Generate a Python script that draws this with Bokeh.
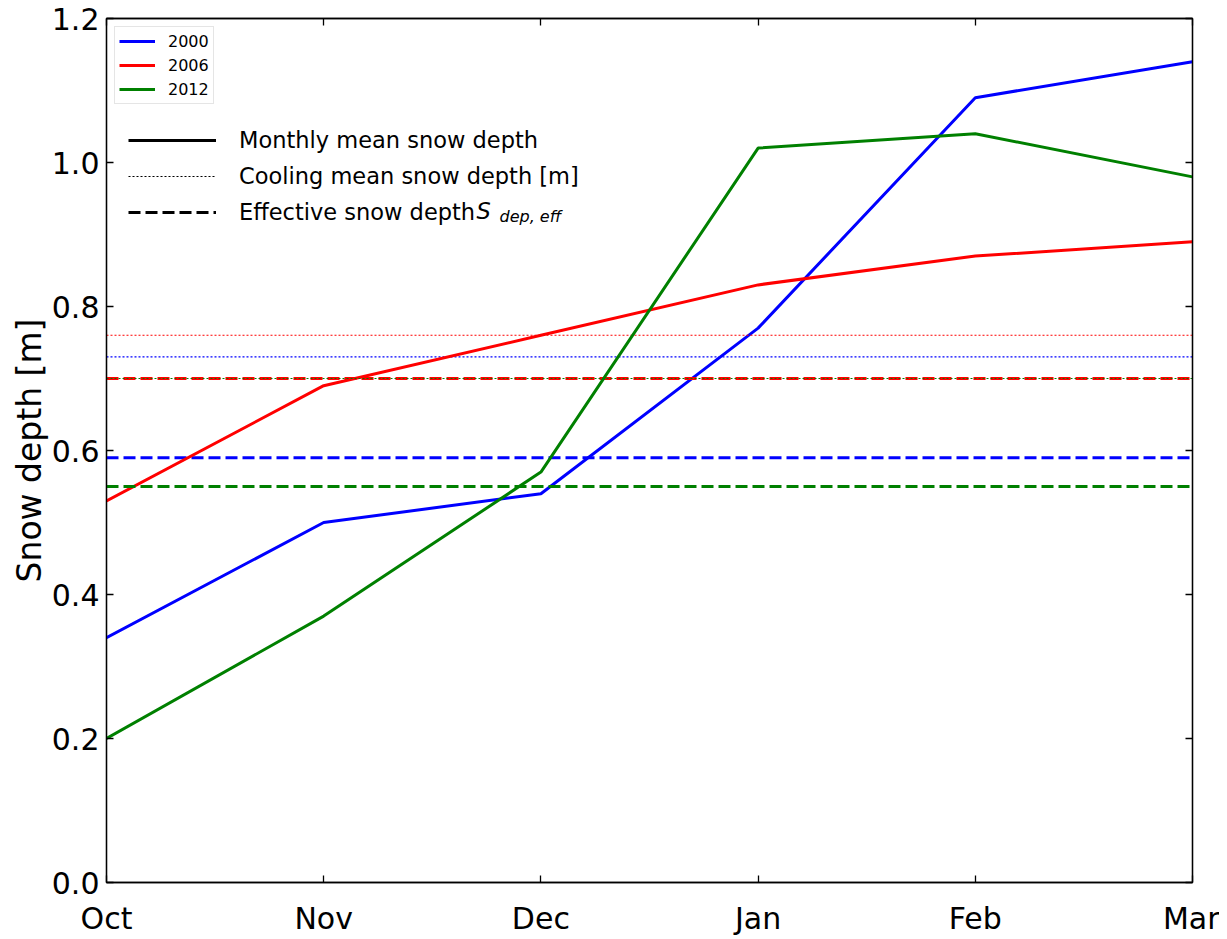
from bokeh.plotting import figure
from bokeh.models import (Legend, LegendItem, LinearAxis, FixedTicker, Label,
                          NumeralTickFormatter, Range1d, CustomJSTickFormatter)
from bokeh.embed import file_html
from bokeh.resources import INLINE

months = ["Oct", "Nov", "Dec", "Jan", "Feb", "Mar"]
years = ["2000", "2006", "2012"]
colors = ["#0000ff", "#ff0000", "#008000"]
depth_2000 = [0.34, 0.50, 0.54, 0.77, 1.09, 1.14]
depth_2006 = [0.53, 0.69, 0.76, 0.83, 0.87, 0.89]
depth_2012 = [0.20, 0.37, 0.57, 1.02, 1.04, 0.98]
cooling_mean = [0.73, 0.76, 0.70]
effective_depth = [0.59, 0.70, 0.55]
y_ticks = [0.0, 0.2, 0.4, 0.6, 0.8, 1.0, 1.2]
style_labels = ["Monthly mean snow depth", "Cooling mean snow depth [m]", "Effective snow depth"]

series = [depth_2000, depth_2006, depth_2012]
xs = list(range(len(months)))
FONT = "DejaVu Sans"
NAN = float("nan")

p = figure(width=1219, height=938, output_backend="svg", toolbar_location=None,
           x_range=Range1d(xs[0], xs[-1]), y_range=Range1d(y_ticks[0], y_ticks[-1]),
           min_border_left=106, min_border_right=27, min_border_top=18, min_border_bottom=56)
p.grid.visible = False
p.outline_line_color = "black"
p.outline_line_width = 1.3
p.background_fill_color = "white"
p.border_fill_color = "white"

DOT = "2 2"
DASH = "12 5"
DOT_W = 1.1

solid_renderers = []
for yr, col, vals, cm, ed in zip(years, colors, series, cooling_mean, effective_depth):
    r = p.line(xs, vals, line_color=col, line_width=3)
    solid_renderers.append(r)
    p.line([xs[0], xs[-1]], [cm, cm], line_color=col, line_width=DOT_W, line_dash=DOT)
    p.line([xs[0], xs[-1]], [ed, ed], line_color=col, line_width=3, line_dash=DASH)


def style_axis(ax, labels=True):
    ax.major_tick_in = 7
    ax.major_tick_out = 0
    ax.minor_tick_in = 0
    ax.minor_tick_out = 0
    ax.major_tick_line_width = 1.3
    ax.axis_line_width = 1.3
    ax.axis_line_color = "black"
    ax.major_tick_line_color = "black"
    if labels:
        ax.major_label_text_font = FONT
        ax.major_label_text_font_size = "30px"
        ax.major_label_text_color = "black"
    else:
        ax.formatter = CustomJSTickFormatter(code="return ''")
        ax.major_label_standoff = 0


p.xaxis.ticker = FixedTicker(ticks=xs)
p.xaxis.major_label_overrides = {x: m for x, m in zip(xs, months)}
p.yaxis.ticker = FixedTicker(ticks=y_ticks)
p.yaxis.formatter = NumeralTickFormatter(format="0.0")
style_axis(p.xaxis[0])
style_axis(p.yaxis[0])
p.xaxis.major_label_standoff = 18
p.yaxis.major_label_standoff = 7
p.yaxis.axis_label = "Snow depth [m]"
p.yaxis.axis_label_text_font = FONT
p.yaxis.axis_label_text_font_size = "33px"
p.yaxis.axis_label_text_font_style = "normal"
p.yaxis.axis_label_text_color = "black"
p.yaxis.axis_label_standoff = 0

top = LinearAxis(ticker=FixedTicker(ticks=xs))
style_axis(top, labels=False)
p.add_layout(top, "above")
right = LinearAxis(ticker=FixedTicker(ticks=y_ticks))
style_axis(right, labels=False)
p.add_layout(right, "right")

# year legend
leg1 = Legend(items=[LegendItem(label=y, renderers=[r]) for y, r in zip(years, solid_renderers)],
              location="top_left", margin=8, padding=4, spacing=4,
              glyph_width=36, glyph_height=20, label_height=20, label_standoff=13,
              label_text_font=FONT, label_text_font_size="16px", label_text_color="black",
              border_line_color="#cccccc", border_line_width=1,
              background_fill_color="white", background_fill_alpha=1.0)
p.add_layout(leg1, "center")

# line-style legend (key renderers carry no visible data)
d_solid = p.line([NAN, NAN], [NAN, NAN], line_color="black", line_width=3)
d_dot = p.line([NAN, NAN], [NAN, NAN], line_color="black", line_width=DOT_W, line_dash=DOT)
d_dash = p.line([NAN, NAN], [NAN, NAN], line_color="black", line_width=3, line_dash=DASH)
leg2 = Legend(items=[LegendItem(label=l, renderers=[r]) for l, r in zip(style_labels, [d_solid, d_dot, d_dash])],
              location=(22, 655), padding=0, spacing=6, margin=0,
              glyph_width=88, glyph_height=30, label_height=30, label_standoff=23,
              label_text_font=FONT, label_text_font_size="22.5px", label_text_color="black",
              border_line_color=None, background_fill_alpha=0)
p.add_layout(leg2, "center")

p.add_layout(Label(x=370, y=672, x_units="screen", y_units="screen", text="S",
                   text_font=FONT, text_font_size="22.5px", text_font_style="italic",
                   text_baseline="middle", text_color="black"))
p.add_layout(Label(x=393, y=666, x_units="screen", y_units="screen", text="dep, eff",
                   text_font=FONT, text_font_size="16px", text_font_style="italic",
                   text_baseline="middle", text_color="black"))
# partially visible glyph at the right edge
p.add_layout(Label(x=1111, y=661, x_units="screen", y_units="screen", text="S",
                   text_font=FONT, text_font_size="46px", text_font_style="italic",
                   text_baseline="middle", text_color="black"))

open("out.html", "w").write(file_html(p, INLINE))
